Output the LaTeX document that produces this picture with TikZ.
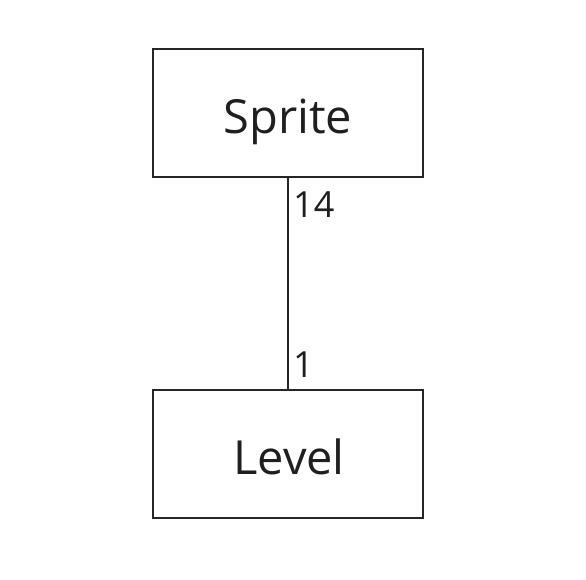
\documentclass[tikz,border=0pt]{standalone}
\usepackage{fontspec}
\setmainfont{Open Sans}
\begin{document}
\begin{tikzpicture}[x=1pt,y=-1pt,
  box/.style={draw=black!85,line width=1.1pt,minimum width=270pt,minimum height=128pt,inner sep=0pt},
  big/.style={font=\fontsize{47}{56}\selectfont,text=black!88,anchor=base,inner sep=0pt},
  mult/.style={font=\fontsize{36}{43}\selectfont,text=black!88,anchor=base west,inner sep=0pt},
  conn/.style={draw=black!85,line width=1.1pt}]
\useasboundingbox (0,0) rectangle (586,579);
\node[box] (sprite) at (288,113) {};
\node[box] (level) at (288,454) {};
\node[big] (spritet) at (288,133) {Sprite};
\node[big] (levelt) at (289,474) {Level};
\draw[conn] (sprite.south) -- (level.north);
\node[mult] (m14) at (293,217) {14};
\node[mult] (m1) at (293,377) {1};
\end{tikzpicture}
\end{document}
